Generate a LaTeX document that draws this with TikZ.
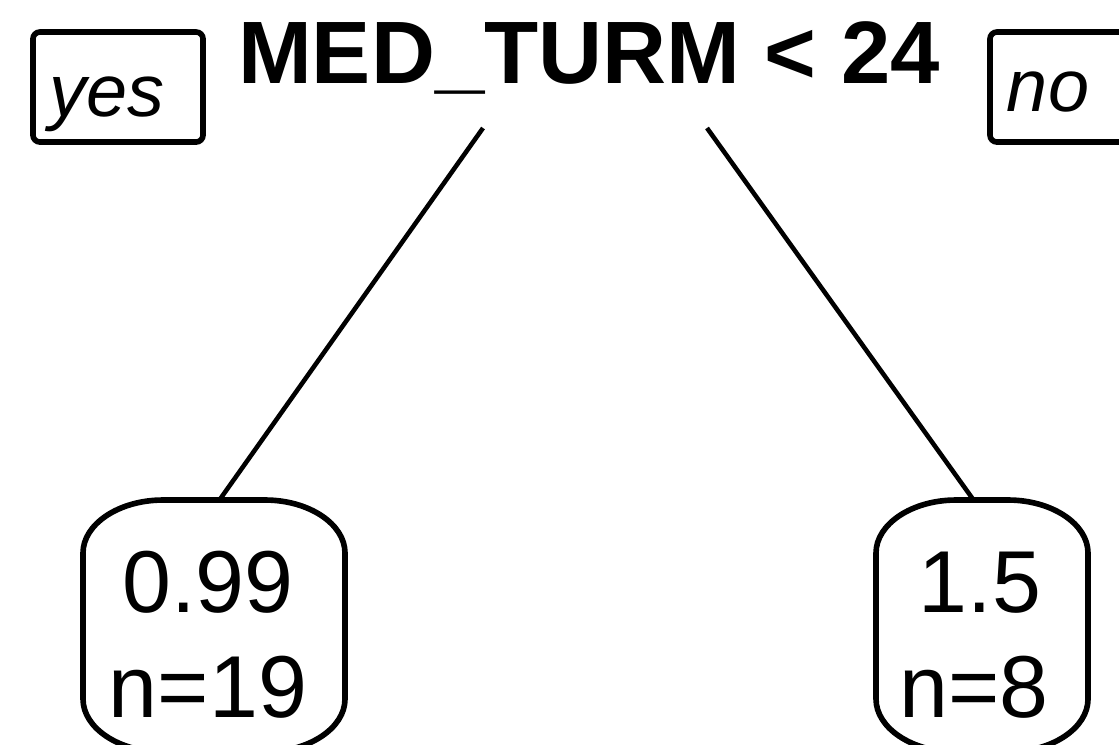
\documentclass[tikz,border=0pt]{standalone}
\usepackage{fontspec}
\setmainfont{Liberation Sans}
\usetikzlibrary{positioning}

\tikzset{
    split/.style={anchor=base, inner sep=0pt, font=\bfseries\fontsize{25.2}{30}\selectfont},
    sidebox/.style={draw, line width=1.6pt, rounded corners=2pt, minimum width=1.70cm, minimum height=1.10cm, inner sep=0pt},
    sidetext/.style={anchor=base, inner sep=0pt, font=\itshape\fontsize{21}{25}\selectfont},
    leafcell/.style={minimum height=2.52cm, inner sep=0pt},
    leaftext/.style={anchor=base, inner sep=0pt, font=\fontsize{25}{30}\selectfont},
    edge/.style={line width=1.3pt},
    box/.style={line width=1.6pt}
}

% rounded leaf outline round a node: #1 node, #2 half width (px)
\newcommand{\leafoutline}[2]{%
    \begin{scope}[shift={(#1.center)}]
        \draw[box] (-#2,-73) .. controls (-#2,-102) and (-#2+36,-126) .. (-#2+80,-126)
            -- (#2-80,-126) .. controls (#2-36,-126) and (#2,-102) .. (#2,-73)
            -- (#2,73) .. controls (#2,102) and (#2-36,126) .. (#2-80,126)
            -- (-#2+80,126) .. controls (-#2+36,126) and (-#2,102) .. (-#2,73) -- cycle;
    \end{scope}
}

\begin{document}
\begin{tikzpicture}[x=0.01cm, y=-0.01cm]
\clip (0,0) rectangle (1119,744);
\fill[white] (0,0) rectangle (1119,744);

% split
\node[split] (root) at (589,83) {MED\_TURM < 24};
\coordinate (rootL) at (483,128);
\coordinate (rootR) at (707,128);

% yes / no
\node[sidebox] (yesbox) at (118,87) {};
\node[sidetext] (yes) at (107,116) {yes};
\node[sidebox] (nobox) at (1075,87) {};
\node[sidetext] (no) at (1048,111) {no};

% leaves
\node[leafcell, minimum width=2.62cm] (leafL) at (214,626) {};
\node[leafcell, minimum width=2.12cm] (leafR) at (982,626) {};
\leafoutline{leafL}{131}
\leafoutline{leafR}{106}
\node[leaftext] (valL) at (208,612) {0.99};
\node[leaftext] (nL) at (208,717) {n=19};
\node[leaftext] (valR) at (980,612) {1.5};
\node[leaftext] (nR) at (974,717) {n=8};

\draw[edge] (rootL) -- ([xshift=0.06cm]leafL.north);
\draw[edge] (rootR) -- ([xshift=-0.09cm]leafR.north);
\end{tikzpicture}
\end{document}
